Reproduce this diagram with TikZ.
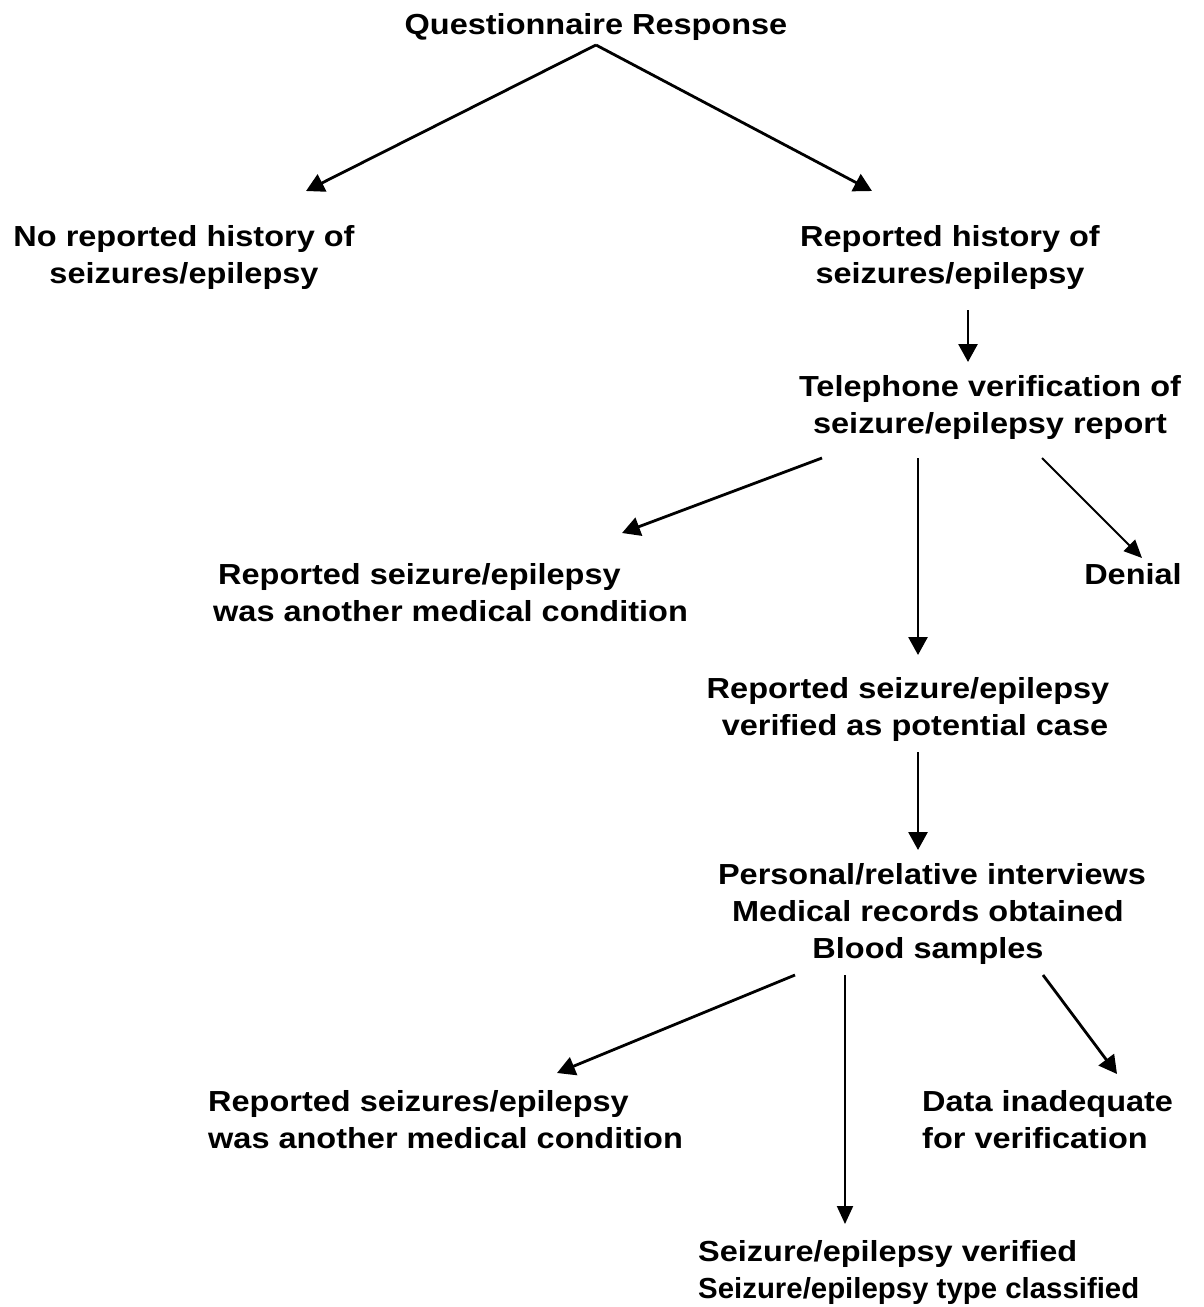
\documentclass[tikz,border=0pt]{standalone}
\usepackage{graphicx}
\usepackage{fontspec}
\setmainfont{Liberation Sans}[FakeStretch=1.12]
\usetikzlibrary{arrows.meta}
\begin{document}
\begin{tikzpicture}[x=1pt,y=-1pt,
  lbl/.style={inner sep=0pt, font=\fontsize{29}{37}\selectfont\bfseries},
  arr/.style={line width=2.8pt, -{Triangle[length=18pt,width=19pt]}},
  arrthin/.style={line width=2pt, -{Triangle[length=18pt,width=16pt]}}]
\useasboundingbox (0,0) rectangle (1203,1307);
\fill[white] (0,0) rectangle (1203,1307);
% nodes
\node[lbl, anchor=north] (q) at (596,13) {Questionnaire Response};
\node[lbl, anchor=north, align=center] (no) at (184,225) {No reported history of\\seizures/epilepsy};
\node[lbl, anchor=north, align=center] (yes) at (950,225) {Reported history of\\seizures/epilepsy};
\node[lbl, anchor=north, align=center] (tel) at (990,375) {Telephone verification of\\seizure/epilepsy report};
\node[lbl, anchor=north west, align=left] (oth1) at (213,563) {\hspace{5pt}Reported seizure/epilepsy\\was another medical condition};
\node[lbl, anchor=north] (den) at (1133,563) {Denial};
\node[lbl, anchor=north, align=center] (pot) at (908,677) {Reported seizure/epilepsy\\\hspace{14pt}verified as potential case};
\node[lbl, anchor=north, align=center] (pers) at (928,863) {\hspace{8pt}Personal/relative interviews\\Medical records obtained\\Blood samples\hspace{24pt}};
\node[lbl, anchor=north west, align=left] (oth2) at (208,1090) {Reported seizures/epilepsy\\was another medical condition};
\node[lbl, anchor=north west, align=left] (data) at (922,1090) {Data inadequate\\for verification};
\node[lbl, anchor=north west, align=left] (fin) at (698,1240) {Seizure/epilepsy verified\\\scalebox{0.905}[1]{Seizure/epilepsy type classified}};
% connector end points
\coordinate (qs) at (596,45);
\coordinate (noN) at (306,191);
\coordinate (yesN) at (872,191);
\coordinate (yesS) at (968,310);
\coordinate (telN) at (968,362);
\coordinate (telSL) at (822,458);
\coordinate (telSM) at (918,458);
\coordinate (telSR) at (1042,458);
\coordinate (oth1N) at (622,533);
\coordinate (denN) at (1142,558);
\coordinate (potN) at (918,655);
\coordinate (potS) at (918,752);
\coordinate (persN) at (918,850);
\coordinate (persSL) at (795,975);
\coordinate (persSM) at (845,975);
\coordinate (persSR) at (1043,975);
\coordinate (oth2N) at (557,1073);
\coordinate (dataN) at (1117,1074);
\coordinate (finN) at (845,1224);
% connectors
\draw[arr] (qs) -- (noN);
\draw[arr] (qs) -- (yesN);
\draw[arr] (yesS) -- (telN);
\draw[arr] (telSL) -- (oth1N);
\draw[arr] (telSM) -- (potN);
\draw[arrthin] (telSR) -- (denN);
\draw[arr] (potS) -- (persN);
\draw[arr] (persSL) -- (oth2N);
\draw[arrthin] (persSM) -- (finN);
\draw[arr] (persSR) -- (dataN);
\end{tikzpicture}
\end{document}
